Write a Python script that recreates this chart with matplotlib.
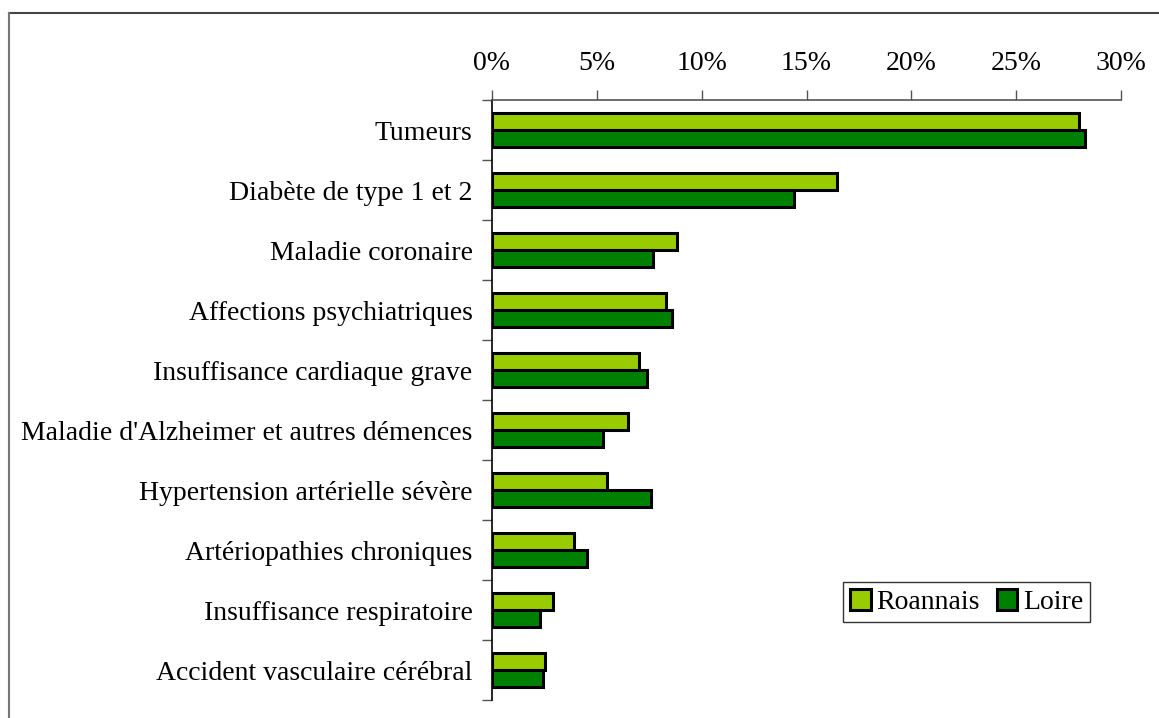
import numpy as np
import matplotlib.pyplot as plt
from matplotlib.lines import Line2D

# Part des affections de longue durée par cause
categories = ['Tumeurs', 'Diabète de type 1 et 2', 'Maladie coronaire',
              'Affections psychiatriques', 'Insuffisance cardiaque grave',
              "Maladie d'Alzheimer et autres démences",
              'Hypertension artérielle sévère', 'Artériopathies chroniques',
              'Insuffisance respiratoire', 'Accident vasculaire cérébral']
roannais = [28.0, 16.45, 8.8, 8.3, 7.0, 6.5, 5.5, 3.9, 2.9, 2.55]
loire = [28.3, 14.4, 7.7, 8.6, 7.4, 5.3, 7.6, 4.55, 2.3, 2.45]
xticks = [0, 5, 10, 15, 20, 25, 30]

col_roa = '#99CC00'
col_loi = '#008000'
font = 'Liberation Serif'
fs = 20

fig = plt.figure(figsize=(11.59, 7.18), dpi=100)
ax = fig.add_axes([492 / 1159, 1 - 700 / 718, 629 / 1159, 600 / 718])

y = np.arange(len(categories))
h = 0.283
ax.barh(y - h / 2, roannais, height=h, color=col_roa, edgecolor='black',
        linewidth=2.2, label='Roannais')
ax.barh(y + h / 2, loire, height=h, color=col_loi, edgecolor='black',
        linewidth=2.2, label='Loire')

ax.set_xlim(0, 30)
ax.set_ylim(len(categories) - 0.5, -0.5)
ax.xaxis.tick_top()
ax.set_xticks(xticks)
ax.set_xticklabels([f'{t}%' for t in xticks], fontfamily=font, fontsize=fs)
ax.tick_params(axis='x', length=7, width=1, color='#555555', pad=10)

# category labels in the middle, ticks between categories
ax.set_yticks(np.arange(len(categories) + 1) - 0.5)
ax.set_yticklabels([])
ax.set_yticks(y, minor=True)
ax.set_yticklabels(categories, minor=True, fontfamily=font, fontsize=fs)
ax.tick_params(axis='y', which='major', length=7, width=1, color='#555555')
ax.tick_params(axis='y', which='minor', length=0, pad=14)

for s in ['right', 'bottom']:
    ax.spines[s].set_visible(False)
ax.spines['top'].set_color('#555555')
ax.spines['left'].set_color('black')
ax.spines['top'].set_linewidth(1.2)
ax.spines['left'].set_linewidth(1.2)

leg = ax.legend(loc='lower left', bbox_to_anchor=((843 - 492) / 629, (700 - 622) / 600),
                ncol=2, frameon=True, fancybox=False, shadow=False,
                prop={'family': font, 'size': fs}, handlelength=0.75, handleheight=0.75,
                handletextpad=0.2, columnspacing=0.6, borderpad=0.25,
                borderaxespad=0)
leg.get_frame().set_edgecolor('black')
leg.get_frame().set_linewidth(1.0)

# outer frame of the chart area
fig.add_artist(Line2D([9 / 1159, 1], [1 - 13 / 718, 1 - 13 / 718],
                      transform=fig.transFigure, color='#444444', lw=1.5))
fig.add_artist(Line2D([9 / 1159, 9 / 1159], [0, 1 - 13 / 718],
                      transform=fig.transFigure, color='#777777', lw=1.5))

fig.savefig('out.png', dpi=100)
